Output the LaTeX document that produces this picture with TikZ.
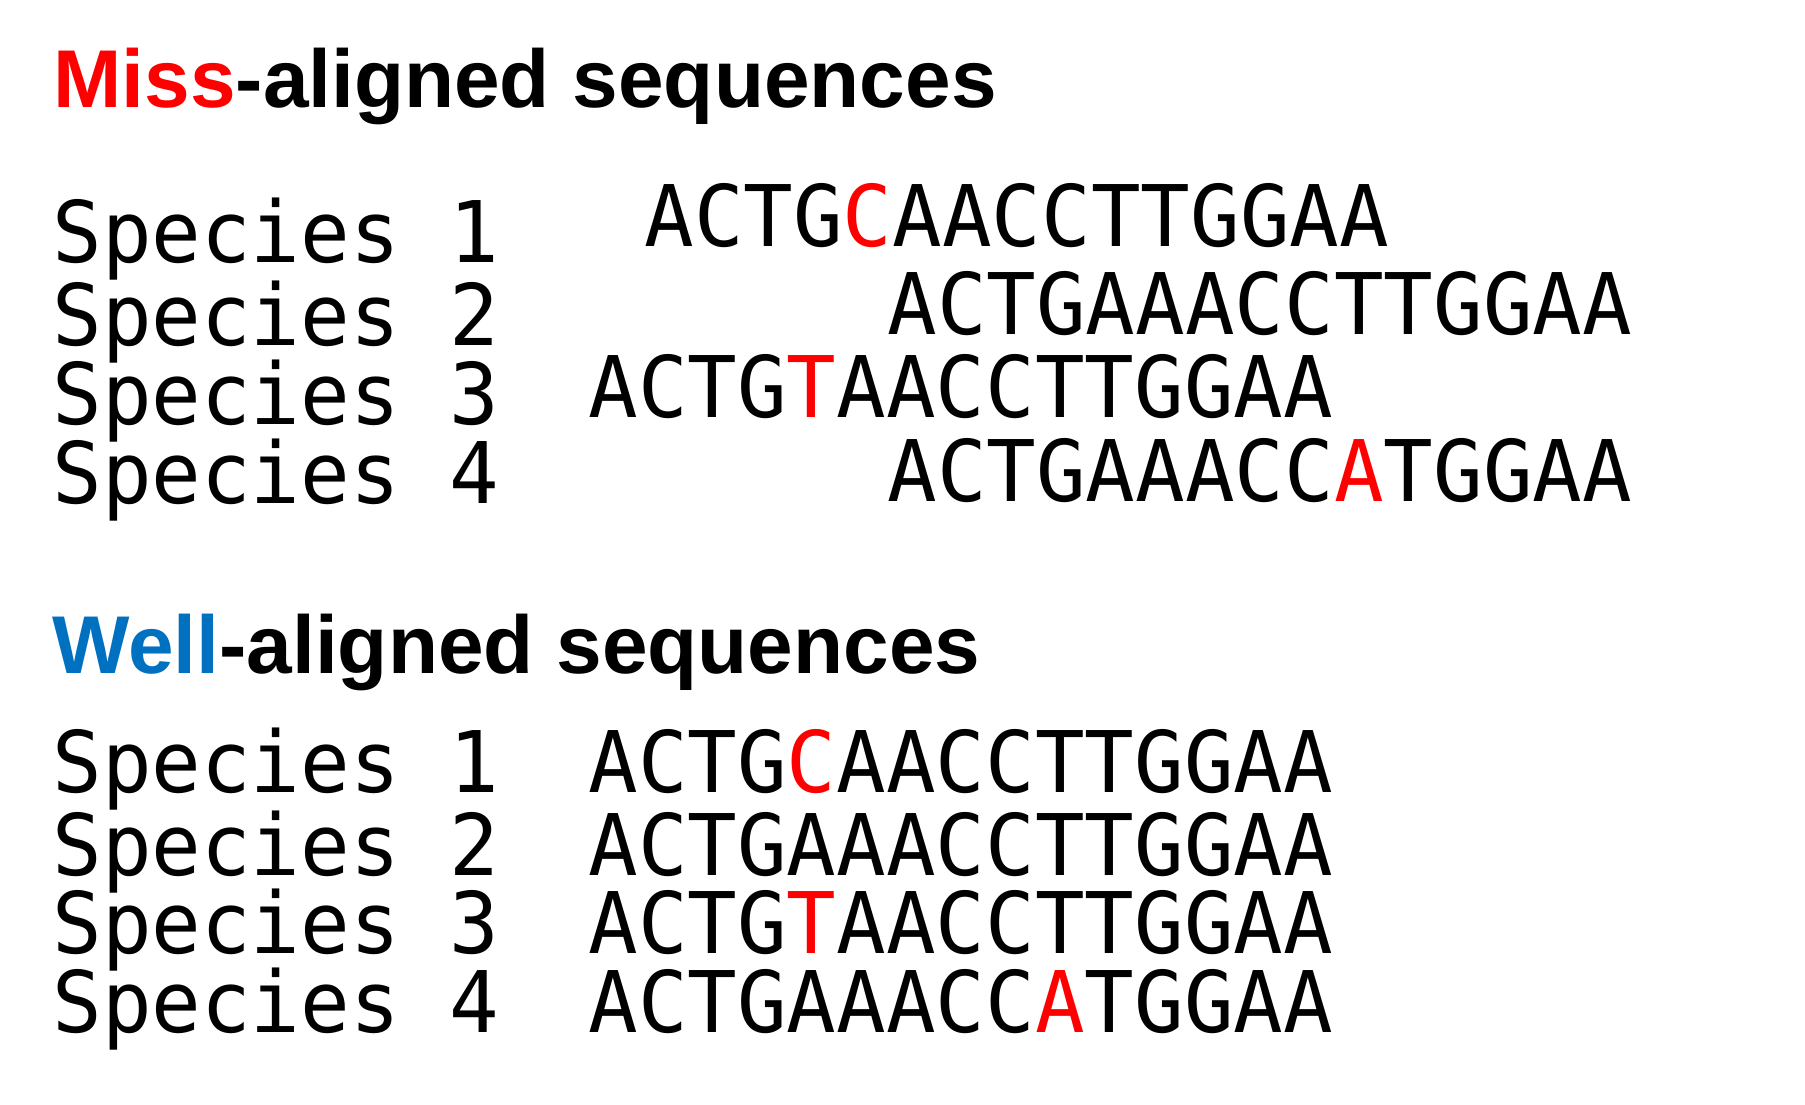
\documentclass[tikz,border=0pt]{standalone}
\usepackage{fontspec}
\usepackage{xcolor}
\setmainfont{Liberation Sans}
\newfontfamily\seqfont[FakeStretch=0.97]{DejaVu Sans Mono}
\definecolor{missred}{RGB}{255,0,0}
\definecolor{wellblue}{RGB}{0,112,192}
\newcommand{\mut}[1]{\textcolor{missred}{#1}}
\tikzset{
	head/.style={anchor=base west,inner sep=0pt,font=\fontsize{41pt}{48pt}\selectfont\bfseries},
	lab/.style={anchor=base west,inner sep=0pt,font=\fontsize{42.5pt}{50pt}\seqfont},
	seq/.style={lab}
}

\begin{document}
\begin{tikzpicture}[x=0.5pt,y=-0.5pt]
	\useasboundingbox (0,0) rectangle (1805,1104);
	% miss-aligned
	\node[head] (T1) at (53,107) {\textcolor{missred}{Miss}-aligned sequences};
	\node[lab] (A1) at (52,262) {Species 1};
	\node[lab] (A2) at (52,345) {Species 2};
	\node[lab] (A3) at (52,424) {Species 3};
	\node[lab] (A4) at (52,503) {Species 4};
	\node[seq] (S1) at (644,246) {ACTG\mut{C}AACCTTGGAA};
	\node[seq] (S2) at (887,334) {ACTGAAACCTTGGAA};
	\node[seq] (S3) at (588,417) {ACTG\mut{T}AACCTTGGAA};
	\node[seq] (S4) at (887,501) {ACTGAAACC\mut{A}TGGAA};
	% well-aligned
	\node[head] (T2) at (52,673) {\textcolor{wellblue}{Well}-aligned sequences};
	\node[lab] (B1) at (52,792) {Species 1};
	\node[lab] (B2) at (52,875) {Species 2};
	\node[lab] (B3) at (52,953) {Species 3};
	\node[lab] (B4) at (52,1032) {Species 4};
	\node[seq] (W1) at (588,792) {ACTG\mut{C}AACCTTGGAA};
	\node[seq] (W2) at (588,875) {ACTGAAACCTTGGAA};
	\node[seq] (W3) at (588,953) {ACTG\mut{T}AACCTTGGAA};
	\node[seq] (W4) at (588,1032) {ACTGAAACC\mut{A}TGGAA};
\end{tikzpicture}
\end{document}
